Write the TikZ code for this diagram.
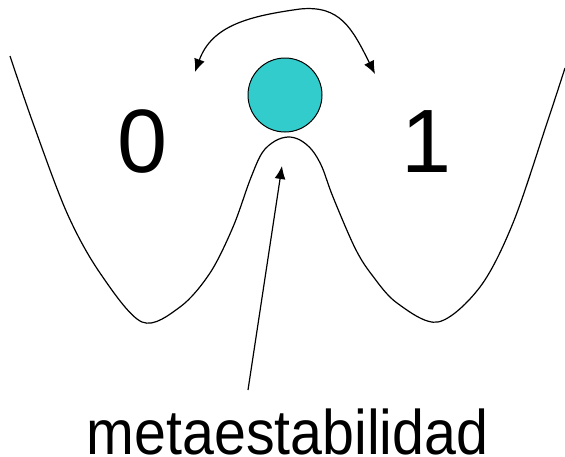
\documentclass[tikz,border=0pt]{standalone}
\usepackage{fontspec}
\setmainfont{Liberation Sans}
\newfontfamily\narrowfont[FakeStretch=0.91]{Liberation Sans}
\usetikzlibrary{arrows.meta}
\definecolor{ballcol}{HTML}{33CCCC}
\begin{document}
\begin{tikzpicture}[x=1pt,y=-1pt,
  curve/.style={line width=1.2pt, line join=round},
  tip/.tip={Latex[length=13pt,width=11pt]},
  pointer/.style={line width=1.2pt, -tip},
  big/.style={inner sep=0pt, anchor=base, font=\fontsize{90}{90}\selectfont},
  label/.style={inner sep=0pt, anchor=base, font=\narrowfont\fontsize{63}{63}\selectfont}]
\useasboundingbox (0,0) rectangle (565,456);
% potential curve
\draw[curve] plot[smooth, tension=0.55] coordinates {
  (10,56) (33,123) (67,213) (100,273) (142,322) (180,307) (210,273)
  (233,227) (250,180) (262,153) (275,141) (288,137) (300,140) (312,150) (322,167)
  (333,197) (355,248) (372,275) (397,303) (438,322) (480,287) (513,223) (547,123) (565,68)};
% ball
\node[circle, draw, line width=1pt, fill=ballcol, minimum size=74pt, inner sep=0pt] (ball) at (285,95) {};
% labels
\node[big] (zero) at (142.5,172) {0};
\node[big] (one) at (427,172) {1};
\node[label] (meta) at (287.5,454) {metaestabilidad};
\coordinate (peak) at (282,166);
\coordinate (left) at (195,72);
\coordinate (right) at (375,74);
\coordinate (foot) at (248,390);
\draw[pointer] (foot) -- (peak);
\draw[line width=1.2pt, tip-tip]
  (left) .. controls (212,25) and (250,16) .. (300,9) .. controls (340,5) and (352,28) .. (right);
\end{tikzpicture}
\end{document}
